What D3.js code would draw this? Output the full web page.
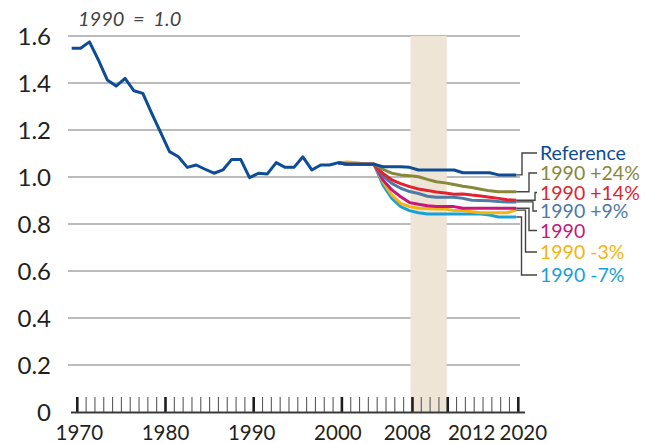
<!DOCTYPE html>
<html><head><meta charset="utf-8">
<script src="https://cdn.jsdelivr.net/npm/d3@7/dist/d3.min.js"></script>
<style>
html,body{margin:0;padding:0;background:#fff;}
svg{display:block;font-family:Lato,"Open Sans",sans-serif;}
</style></head><body>
<svg id="chart" width="646" height="443"></svg>
<script>
// ---------------- data ----------------
const refYears = d3.range(1970, 2021);
const referenceValues = [
  1.548, 1.548, 1.575, 1.498, 1.413, 1.387, 1.420, 1.367, 1.356, 1.271,
  1.190, 1.108, 1.086, 1.041, 1.051, 1.033, 1.016, 1.030, 1.075, 1.075,
  0.997, 1.016, 1.013, 1.061, 1.041, 1.041, 1.086, 1.030, 1.051, 1.051,
  1.061, 1.054, 1.054, 1.054, 1.054, 1.044, 1.044, 1.044, 1.041, 1.030,
  1.030, 1.030, 1.030, 1.030, 1.018, 1.018, 1.018, 1.018, 1.009, 1.009,
  1.009
];
const scenarioYears = d3.range(2000, 2021);
const plus24 =  [1.061, 1.054, 1.054, 1.054, 1.054, 1.033, 1.016, 1.009, 1.005, 1.001, 0.990, 0.980, 0.975, 0.968, 0.961, 0.955, 0.948, 0.941, 0.937, 0.937, 0.937];
const plus14 =  [1.061, 1.054, 1.054, 1.054, 1.054, 1.015, 0.988, 0.972, 0.959, 0.949, 0.943, 0.936, 0.932, 0.927, 0.928, 0.923, 0.919, 0.914, 0.909, 0.903, 0.901];
const plus9 =   [1.061, 1.054, 1.054, 1.054, 1.054, 1.004, 0.973, 0.952, 0.938, 0.930, 0.918, 0.914, 0.914, 0.914, 0.909, 0.901, 0.900, 0.899, 0.896, 0.894, 0.894];
const level1990=[1.061, 1.054, 1.054, 1.054, 1.054, 0.987, 0.945, 0.916, 0.891, 0.884, 0.878, 0.874, 0.874, 0.874, 0.867, 0.867, 0.867, 0.867, 0.867, 0.867, 0.867];
const minus3 =  [1.061, 1.064, 1.061, 1.055, 1.054, 0.980, 0.923, 0.888, 0.874, 0.867, 0.866, 0.864, 0.864, 0.857, 0.857, 0.852, 0.848, 0.848, 0.848, 0.848, 0.859];
const minus7 =  [1.061, 1.054, 1.054, 1.054, 1.054, 0.966, 0.909, 0.874, 0.857, 0.848, 0.843, 0.843, 0.843, 0.843, 0.843, 0.843, 0.843, 0.838, 0.830, 0.830, 0.830];
const seriesNames = ["Reference", "1990 +24%", "1990 +14%", "1990 +9%", "1990", "1990 -3%", "1990 -7%"];
const yTicks = [0, 0.2, 0.4, 0.6, 0.8, 1.0, 1.2, 1.4, 1.6];
const yTickLabels = ["0", "0.2", "0.4", "0.6", "0.8", "1.0", "1.2", "1.4", "1.6"];
const xMajorTicks = [1970, 1980, 1990, 2000, 2008, 2012, 2020];
const xTickLabels = ["1970", "1980", "1990", "2000", "2008", "2012", "2020"];
const bandYears = [2008, 2012];
const titleText = "1990 = 1.0";

// ---------------- styles / layout ----------------
const colors = ["#0e4c96", "#87883a", "#e2222f", "#4b7ba7", "#c8167b", "#f6b40e", "#18a1d9"];
const legendTextY = [153, 173, 192.5, 211, 230.5, 252, 275];
const leaderElbowX = [522, 529, 535, 533, 529, 525.5, 521.5];
const labelNudge = {1970: 2, 1980: 0, 1990: -2, 2000: -4, 2008: -5, 2012: 24, 2020: 5};

const svg = d3.select("#chart");
const xLine = d3.scaleLinear().domain([1970, 2020]).range([71.7, 516.3]);
const xTick = d3.scaleLinear().domain([1970, 2020]).range([77.3, 518.3]);
const y = d3.scaleLinear().domain([0, 1.6]).range([412, 36]);

// gridlines
svg.append("g").selectAll("line").data(yTicks.filter(d => d > 0)).join("line")
  .attr("x1", 68).attr("x2", 520)
  .attr("y1", d => y(d)).attr("y2", d => y(d))
  .attr("stroke", "#a4a4a4").attr("stroke-width", 1.5);

// band
svg.append("rect")
  .attr("x", xTick(bandYears[0]) - 2).attr("width", xTick(bandYears[1]) - xTick(bandYears[0]) + 1)
  .attr("y", y(1.6)).attr("height", y(0) - y(1.6))
  .attr("fill", "#efe5d6");

// x ticks
const allYears = d3.range(1970, 2021);
svg.append("g").selectAll("line").data(allYears).join("line")
  .attr("x1", d => xTick(d)).attr("x2", d => xTick(d))
  .attr("y1", 397).attr("y2", 412)
  .attr("stroke", d => xMajorTicks.includes(d) ? "#1e1e1e" : "#5a5a5a")
  .attr("stroke-width", d => xMajorTicks.includes(d) ? 2.6 : 1.1);

// baseline
svg.append("line").attr("x1", 71).attr("x2", 525).attr("y1", 412.5).attr("y2", 412.5)
  .attr("stroke", "#3a3a3a").attr("stroke-width", 2);

// x labels
svg.append("g").selectAll("text").data(xMajorTicks).join("text")
  .attr("x", d => xTick(d) + labelNudge[d]).attr("y", 439.5)
  .attr("text-anchor", "middle").attr("font-size", 20.5).attr("fill", "#231f20")
  .text((d, i) => xTickLabels[i]);

// y labels
svg.append("g").selectAll("text").data(yTicks).join("text")
  .attr("x", 51).attr("y", d => y(d)).attr("dy", "0.36em")
  .attr("text-anchor", "end").attr("font-size", 24).attr("fill", "#231f20")
  .text((d, i) => yTickLabels[i]);

// title
svg.append("text").attr("x", 78).attr("y", 26)
  .attr("font-size", 20).attr("font-style", "italic").attr("fill", "#444")
  .attr("word-spacing", 4)
  .text(titleText);

// series
const series = [
  {name: seriesNames[0], years: refYears, values: referenceValues, color: colors[0]},
  {name: seriesNames[1], years: scenarioYears, values: plus24, color: colors[1]},
  {name: seriesNames[2], years: scenarioYears, values: plus14, color: colors[2]},
  {name: seriesNames[3], years: scenarioYears, values: plus9, color: colors[3]},
  {name: seriesNames[4], years: scenarioYears, values: level1990, color: colors[4]},
  {name: seriesNames[5], years: scenarioYears, values: minus3, color: colors[5]},
  {name: seriesNames[6], years: scenarioYears, values: minus7, color: colors[6]}
];
const line = d3.line().x(d => xLine(d[0])).y(d => y(d[1]));
const drawOrder = [6, 5, 4, 3, 2, 1, 0];
svg.append("g").selectAll("path").data(drawOrder.map(i => series[i])).join("path")
  .attr("d", s => line(s.years.map((yr, j) => [yr, s.values[j]])))
  .attr("fill", "none").attr("stroke", s => s.color)
  .attr("stroke-width", 3).attr("stroke-linejoin", "round");

// leaders and legend labels
series.forEach((s, i) => {
  const last = s.values[s.values.length - 1];
  const x0 = xLine(s.years[s.years.length - 1]);
  const ly = y(last);
  const ty = legendTextY[i];
  svg.append("path")
    .attr("d", `M${x0},${ly}H${leaderElbowX[i]}V${ty}H537`)
    .attr("fill", "none").attr("stroke", "#444").attr("stroke-width", 1.4);
  svg.append("text").attr("x", 540).attr("y", ty).attr("dy", "0.36em")
    .attr("font-size", 19.5).attr("fill", s.color).text(s.name);
});
</script>
</body></html>
